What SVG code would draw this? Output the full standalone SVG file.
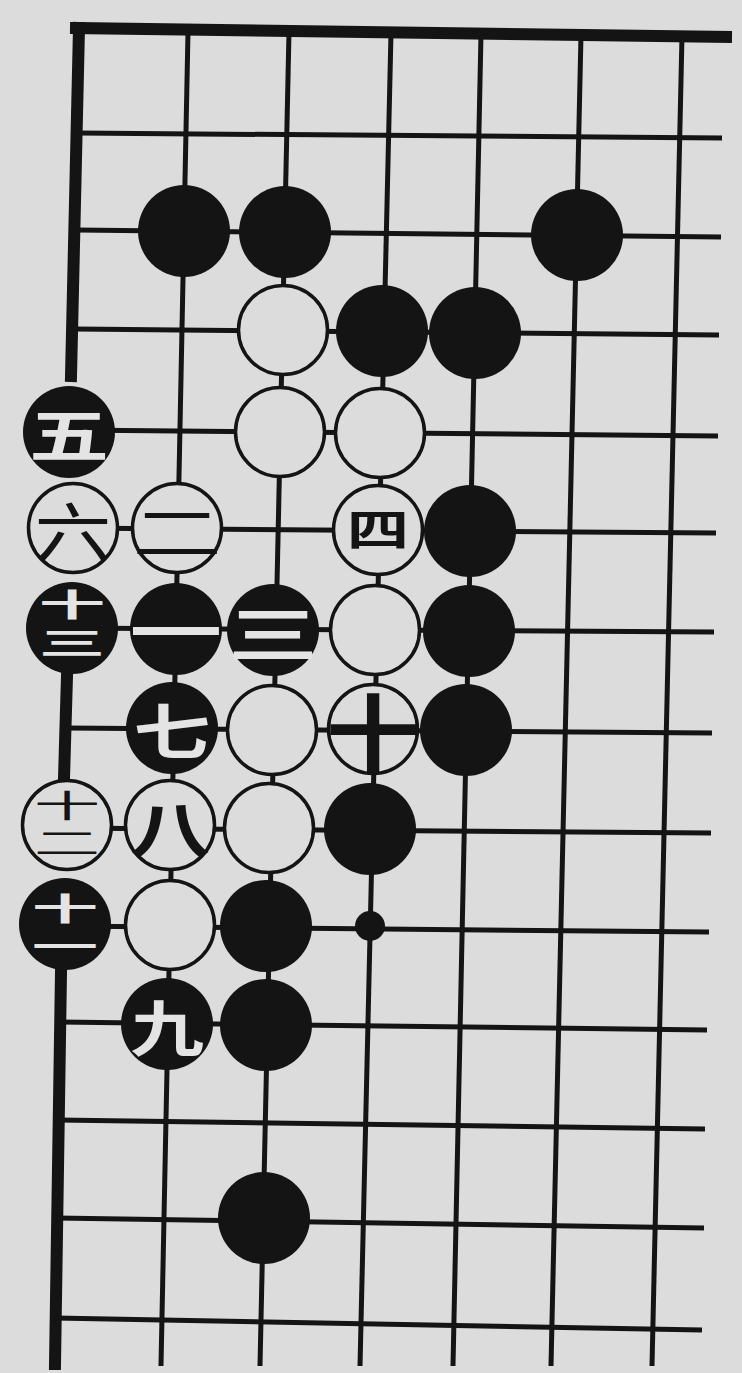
<svg xmlns="http://www.w3.org/2000/svg" width="742" height="1373" viewBox="0 0 742 1373">
<style>
.ln{stroke:#141414;stroke-width:5;stroke-linecap:butt;fill:none}
.edge{stroke:#141414;stroke-width:12;stroke-linecap:square;fill:none}
.b{fill:#141414}
.w{fill:#dcdcdc;stroke:#141414;stroke-width:3.5}
.bt{fill:#e4e4e4;font-family:"Noto Sans CJK SC","Noto Sans CJK JP",sans-serif;font-weight:700;text-anchor:middle;dominant-baseline:central;font-size:64px}
.wt{fill:#141414;font-family:"Noto Sans CJK SC","Noto Sans CJK JP",sans-serif;font-weight:400;text-anchor:middle;dominant-baseline:central;font-size:64px}
.st{font-size:40px;writing-mode:vertical-rl;letter-spacing:8px}
</style>
<rect x="0" y="0" width="742" height="1373" fill="#dcdcdc"/>
<g id="grid">
<line class="edge" x1="76" y1="28" x2="726" y2="37"/>
<line class="edge" x1="79" y1="28" x2="71" y2="376"/>
<line class="edge" x1="67" y1="676" x2="64" y2="778"/>
<line class="edge" x1="61" y1="972" x2="55" y2="1364"/>
<line class="ln" x1="188" y1="32" x2="161" y2="1366"/>
<line class="ln" x1="289" y1="32" x2="260" y2="1366"/>
<line class="ln" x1="391" y1="33" x2="360" y2="1366"/>
<line class="ln" x1="481" y1="34" x2="453" y2="1366"/>
<line class="ln" x1="581" y1="35" x2="551" y2="1366"/>
<line class="ln" x1="682" y1="36" x2="652" y2="1366"/>
<line class="ln" x1="78" y1="133" x2="722" y2="138"/>
<line class="ln" x1="77" y1="230" x2="721" y2="237"/>
<line class="ln" x1="76" y1="329" x2="719" y2="335"/>
<line class="ln" x1="72" y1="430" x2="718" y2="436"/>
<line class="ln" x1="70" y1="528" x2="716" y2="533"/>
<line class="ln" x1="68" y1="628" x2="714" y2="632"/>
<line class="ln" x1="66" y1="728" x2="712" y2="733"/>
<line class="ln" x1="64" y1="828" x2="711" y2="833"/>
<line class="ln" x1="62" y1="926" x2="709" y2="932"/>
<line class="ln" x1="60" y1="1022" x2="707" y2="1030"/>
<line class="ln" x1="58" y1="1120" x2="705" y2="1129"/>
<line class="ln" x1="56" y1="1218" x2="704" y2="1228"/>
<line class="ln" x1="55" y1="1318" x2="702" y2="1330"/>
</g>
<g id="stones">
<g id="s-b-2-1"><circle class="b" cx="184" cy="231" r="46"/></g>
<g id="s-b-2-2"><circle class="b" cx="285" cy="232" r="46"/></g>
<g id="s-b-2-5"><circle class="b" cx="577" cy="235" r="46"/></g>
<g id="s-w-3-2"><circle class="w" cx="283" cy="330" r="44.5"/></g>
<g id="s-b-3-3"><circle class="b" cx="382" cy="331" r="46"/></g>
<g id="s-b-3-4"><circle class="b" cx="475" cy="333" r="46"/></g>
<g id="s-b-4-0"><circle class="b" cx="69" cy="432" r="46"/><text class="bt" transform="translate(69 432) scale(1.25 0.9)">五</text></g>
<g id="s-w-4-2"><circle class="w" cx="280" cy="432" r="44.5"/></g>
<g id="s-w-4-3"><circle class="w" cx="380" cy="433" r="44.5"/></g>
<g id="s-w-5-0"><circle class="w" cx="73" cy="528" r="44.5"/><text class="wt" transform="translate(73 528) scale(1.2 1)">六</text></g>
<g id="s-w-5-1"><circle class="w" cx="177" cy="528" r="44.5"/><text class="wt" transform="translate(177 528) scale(1.4 0.95)">二</text></g>
<g id="s-w-5-3"><circle class="w" cx="378" cy="530" r="44.5"/><text class="wt" transform="translate(378 527) scale(1.2 0.85)" style="font-size:52px;font-weight:700">四</text></g>
<g id="s-b-5-4"><circle class="b" cx="470" cy="531" r="46"/></g>
<g id="s-b-6-0"><circle class="b" cx="72" cy="628" r="46"/><text class="bt st" transform="translate(72 628) scale(1.65 0.78)" x="0" y="-2">十三</text></g>
<g id="s-b-6-1"><circle class="b" cx="176" cy="629" r="46"/><text class="bt" transform="translate(176 629) scale(1.45 0.95)">一</text></g>
<g id="s-b-6-2"><circle class="b" cx="273" cy="630" r="46"/><text class="bt" transform="translate(273 630) scale(1.4 0.95)">三</text></g>
<g id="s-w-6-3"><circle class="w" cx="375" cy="630" r="44.5"/></g>
<g id="s-b-6-4"><circle class="b" cx="469" cy="631" r="46"/></g>
<g id="s-b-7-1"><circle class="b" cx="172" cy="728" r="46"/><text class="bt" transform="translate(172 728) scale(1.2 0.95)">七</text></g>
<g id="s-w-7-2"><circle class="w" cx="272" cy="730" r="44.5"/></g>
<g id="s-w-7-3"><circle class="w" cx="373" cy="729" r="44.5"/><text class="wt" transform="translate(373 729) scale(1.05 0.95)" style="font-size:90px;font-weight:700">十</text></g>
<g id="s-b-7-4"><circle class="b" cx="466" cy="730" r="46"/></g>
<g id="s-w-8-0"><circle class="w" cx="67" cy="825" r="44.5"/><text class="wt st" transform="translate(67 825) scale(1.65 0.78)" x="0" y="2">十二</text></g>
<g id="s-w-8-1"><circle class="w" cx="170" cy="825" r="44.5"/><text class="wt" transform="translate(170 825) scale(1.25 0.95)" style="font-weight:700">八</text></g>
<g id="s-w-8-2"><circle class="w" cx="269" cy="828" r="44.5"/></g>
<g id="s-b-8-3"><circle class="b" cx="370" cy="829" r="46"/></g>
<g id="s-b-9-0"><circle class="b" cx="65" cy="924" r="46"/><text class="bt st" transform="translate(65 924) scale(1.65 0.78)" x="0" y="8">十一</text></g>
<g id="s-w-9-1"><circle class="w" cx="170" cy="925" r="44.5"/></g>
<g id="s-b-9-2"><circle class="b" cx="266" cy="926" r="46"/></g>
<g id="s-dot-9-3"><circle class="b" cx="370" cy="926" r="15"/></g>
<g id="s-b-10-1"><circle class="b" cx="167" cy="1024" r="46"/><text class="bt" transform="translate(167 1024) scale(1.15 0.95)">九</text></g>
<g id="s-b-10-2"><circle class="b" cx="266" cy="1025" r="46"/></g>
<g id="s-b-12-2"><circle class="b" cx="264" cy="1218" r="46"/></g>
</g>
</svg>
